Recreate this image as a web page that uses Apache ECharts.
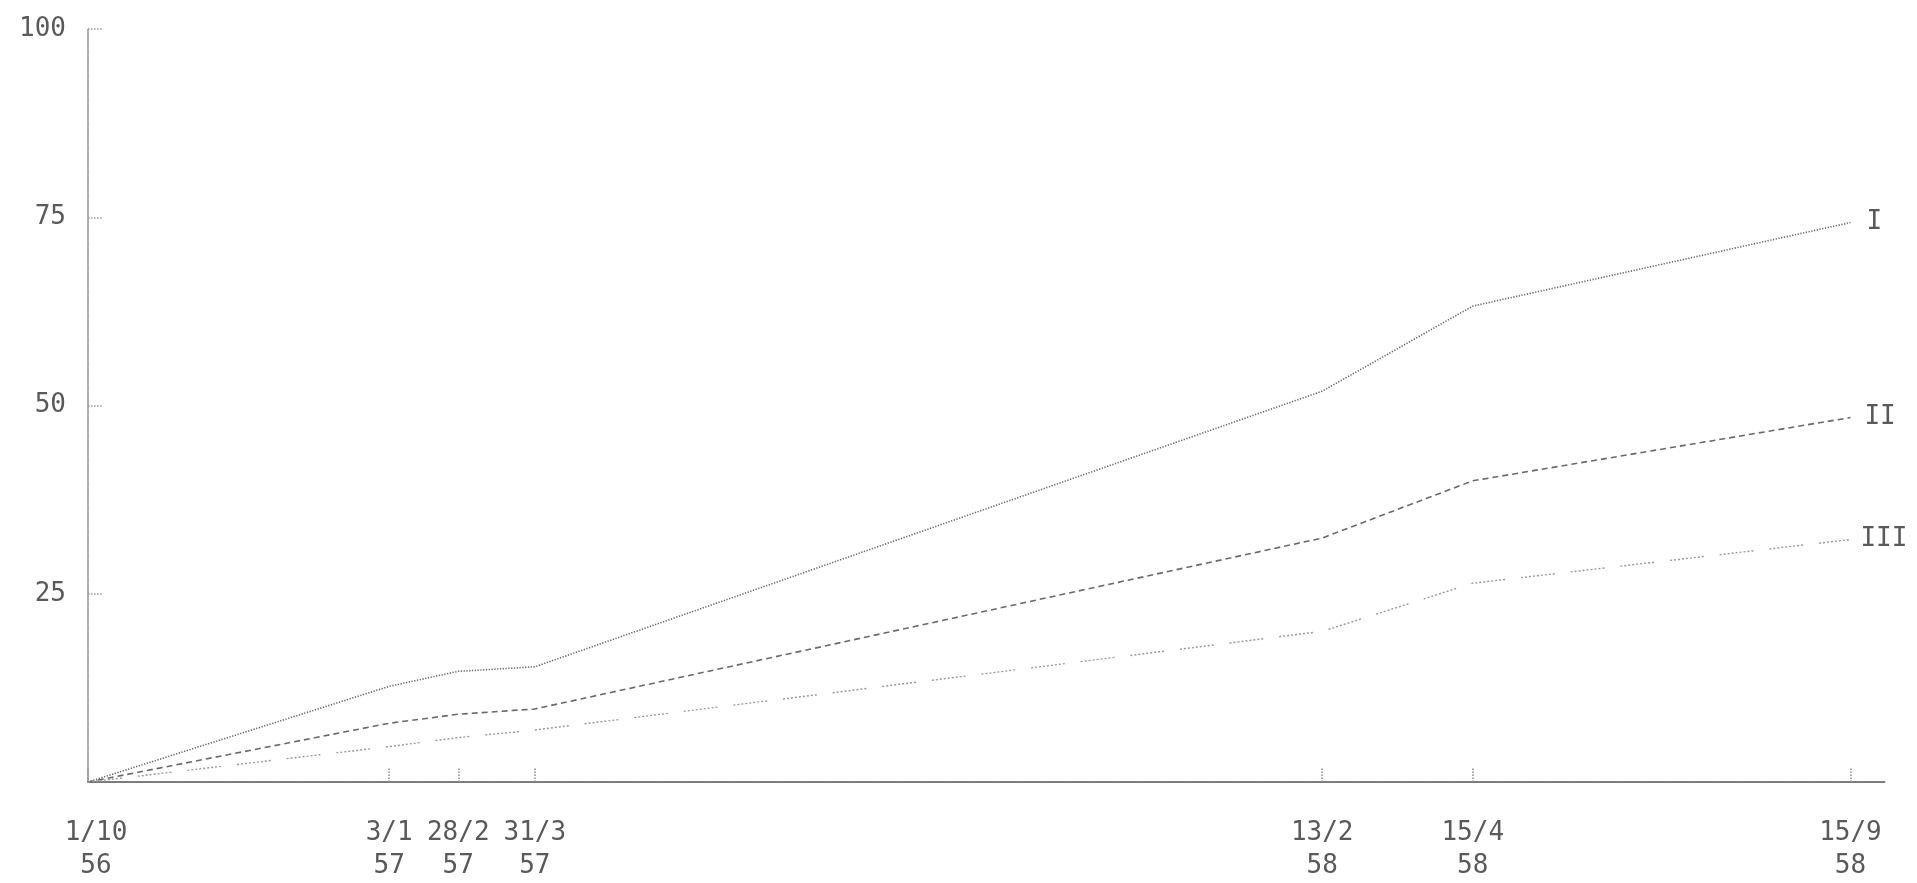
<!DOCTYPE html>
<html>
<head>
<meta charset="utf-8">
<script src="https://cdn.jsdelivr.net/npm/echarts@6/dist/echarts.min.js"></script>
<style>
html,body{margin:0;padding:0;background:#fff;}
#chart{width:1917px;height:883px;}
</style>
</head>
<body>
<div id="chart"></div>
<script>
// Dates of the readings (x positions); tick labels as typed on the original
const dates = ['1956-10-01', '1957-01-31', '1957-02-28', '1957-03-31', '1958-02-13', '1958-04-15', '1958-09-15'];
const dateLabels = ['1/10\n56', '3/1\n57', '28/2\n57', '31/3\n57', '13/2\n58', '15/4\n58', '15/9\n58'];
const axisStart = '1956-10-01';
const axisEnd = '1958-09-29';

const seriesNames = ['I', 'II', 'III'];
const seriesI   = [0, 12.7, 14.7, 15.3, 51.9, 63.2, 74.3];
const seriesII  = [0, 7.8, 9.0, 9.7, 32.4, 40.0, 48.4];
const seriesIII = [0, 4.7, 5.9, 6.9, 20.0, 26.4, 32.2];

const yTicks = [25, 50, 75, 100];

const ts = dates.map(d => Date.parse(d + 'T00:00:00Z'));
const pairs = vals => vals.map((v, i) => [ts[i], v]);

const FONT = 'DejaVu Sans Mono';
const TXT = '#5a5a5a';
const FS = 26;

const chart = echarts.init(document.getElementById('chart'), null, {renderer: 'canvas'});

function endLabel(dist) {
  return {
    show: true,
    formatter: p => p.seriesName,
    distance: dist,
    fontFamily: FONT,
    fontSize: FS,
    color: TXT
  };
}

chart.setOption({
  animation: false,
  backgroundColor: '#ffffff',
  grid: {left: 88, right: 32, top: 29, bottom: 96, containLabel: false},
  xAxis: {
    type: 'value',
    min: Date.parse(axisStart + 'T00:00:00Z'),
    max: Date.parse(axisEnd + 'T00:00:00Z'),
    splitLine: {show: false},
    axisLine: {show: true, lineStyle: {color: '#7a7a7a', width: 2, type: [1.2, 1.2]}},
    axisTick: {
      show: true, inside: true, length: 14,
      customValues: ts,
      lineStyle: {color: '#8a8a8a', width: 1.5, type: [1.5, 1.5]}
    },
    axisLabel: {
      show: true,
      customValues: ts,
      margin: 35,
      fontFamily: FONT,
      fontSize: FS,
      lineHeight: 33,
      color: TXT,
      formatter: function (v) {
        const i = ts.indexOf(v);
        if (i < 0) return '';
        if (i === 0) {
          return dateLabels[i].split('\n').map(s => '{f|' + s + '}').join('\n');
        }
        return dateLabels[i];
      },
      rich: {
        f: {fontFamily: FONT, fontSize: FS, lineHeight: 33, color: TXT, padding: [0, 0, 0, 16]}
      }
    }
  },
  yAxis: {
    type: 'value',
    min: 0, max: 100, interval: 25,
    splitLine: {show: false},
    axisLine: {show: true, lineStyle: {color: '#8e8e8e', width: 1.6, type: [1.2, 1.2]}},
    axisTick: {
      show: true, inside: true, length: 15,
      customValues: yTicks,
      lineStyle: {color: '#9a9a9a', width: 1.5, type: [1.5, 1.5]}
    },
    axisLabel: {
      show: true,
      customValues: yTicks,
      margin: 22,
      fontFamily: FONT,
      fontSize: FS,
      color: TXT
    }
  },
  series: [
    {
      name: seriesNames[0], type: 'line', data: pairs(seriesI),
      symbol: 'none', smooth: false,
      lineStyle: {color: '#6e6e6e', width: 1.6, type: [1.3, 1.5]},
      endLabel: endLabel(16)
    },
    {
      name: seriesNames[1], type: 'line', data: pairs(seriesII),
      symbol: 'none', smooth: false,
      lineStyle: {color: '#6a6a6a', width: 1.6, type: [6, 4]},
      endLabel: endLabel(14)
    },
    {
      name: seriesNames[2], type: 'line', data: pairs(seriesIII),
      symbol: 'none', smooth: false,
      lineStyle: {color: '#9a9a9a', width: 1.4, type: [2, 2, 2, 2, 2, 2, 2, 2, 2, 2, 2, 2, 2, 2, 2, 2, 2, 16]},
      endLabel: endLabel(10)
    }
  ]
});
</script>
</body>
</html>
